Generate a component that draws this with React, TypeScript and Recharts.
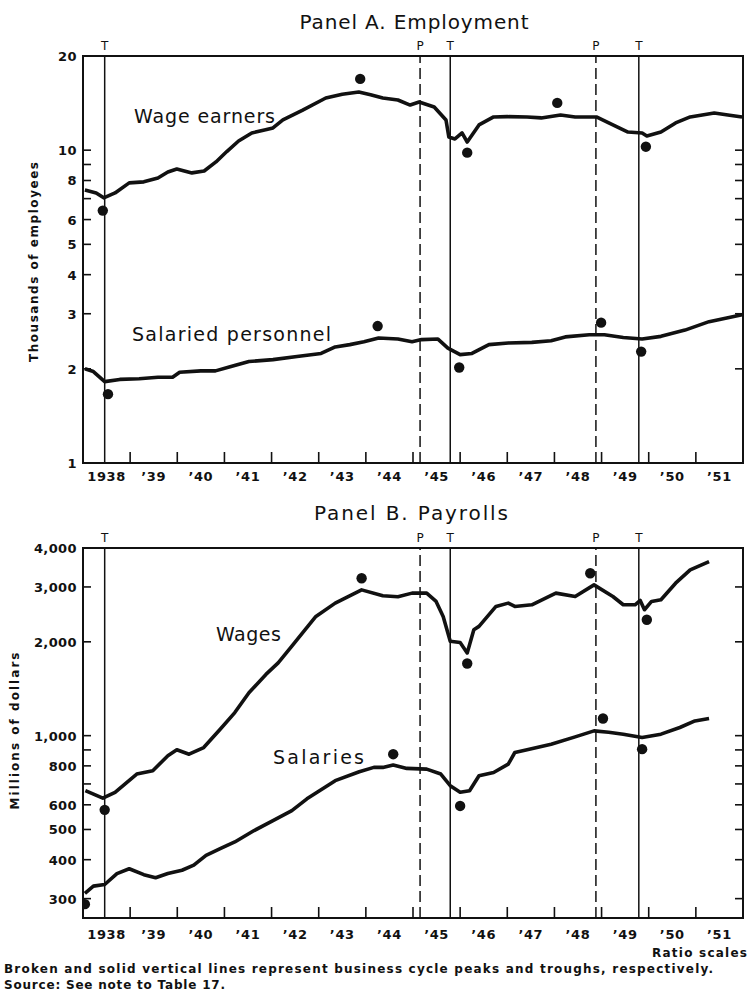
import React from "react";
import {
  ComposedChart,
  Line,
  Scatter,
  XAxis,
  YAxis,
  ReferenceLine,
  ReferenceArea,
} from "recharts";

const FONT = "'DejaVu Sans', Verdana, sans-serif";
const INK = "#111";

// business cycle turning points (P = peak, T = trough)
const cycleDates = [1938.46, 1945.15, 1945.79, 1948.88, 1949.79];
const cycleKinds = ["T", "P", "T", "P", "T"];

// x axis: short ticks at year boundaries, labels at mid-year
const yearBounds = [1939, 1940, 1941, 1942, 1943, 1944, 1945, 1946, 1947, 1948, 1949, 1950, 1951];
const yearMids = [1938.5, 1939.5, 1940.5, 1941.5, 1942.5, 1943.5, 1944.5, 1945.5, 1946.5, 1947.5, 1948.5, 1949.5, 1950.5, 1951.5];
const yearLabels = ["1938", "’39", "’40", "’41", "’42", "’43", "’44", "’45", "’46", "’47", "’48", "’49", "’50", "’51"];

// Panel A (thousands of employees)
const empTicks = [1, 2, 3, 4, 5, 6, 7, 8, 9, 10, 20];
const empLabeled = [1, 2, 3, 4, 5, 6, 8, 10, 20];
const empRightTicks = [2, 3, 4, 5, 6, 7, 8, 9, 10];

const wageEarnerDates = [1938.04, 1938.28, 1938.44, 1938.68, 1938.98, 1939.29, 1939.59, 1939.8, 1939.99, 1940.31, 1940.57, 1940.82, 1941.05, 1941.3, 1941.58, 1941.85, 1942.03, 1942.24, 1942.65, 1943.15, 1943.5, 1943.85, 1944.1, 1944.36, 1944.68, 1944.94, 1945.13, 1945.45, 1945.7, 1945.76, 1945.89, 1946.04, 1946.15, 1946.4, 1946.71, 1947.0, 1947.42, 1947.72, 1948.13, 1948.44, 1948.89, 1949.24, 1949.56, 1949.86, 1949.96, 1950.26, 1950.57, 1950.88, 1951.39, 1951.68, 1951.98];
const wageEarnerValues = [7.46, 7.3, 7.04, 7.3, 7.86, 7.92, 8.15, 8.52, 8.71, 8.46, 8.58, 9.17, 9.9, 10.7, 11.35, 11.6, 11.78, 12.49, 13.4, 14.68, 15.09, 15.34, 15.04, 14.68, 14.47, 13.94, 14.26, 13.74, 12.49, 11.02, 10.86, 11.35, 10.62, 12.04, 12.77, 12.8, 12.77, 12.68, 12.96, 12.77, 12.77, 12.04, 11.43, 11.35, 11.1, 11.43, 12.22, 12.77, 13.15, 12.96, 12.77];
const wageEarnerDotDates = [1938.42, 1943.88, 1946.15, 1948.06, 1949.94];
const wageEarnerDotValues = [6.41, 16.9, 9.82, 14.16, 10.26];

const salariedDates = [1938.04, 1938.22, 1938.46, 1938.78, 1939.19, 1939.59, 1939.9, 1940.05, 1940.5, 1940.81, 1941.12, 1941.52, 1942.03, 1942.54, 1943.05, 1943.35, 1943.66, 1943.96, 1944.27, 1944.68, 1944.98, 1945.18, 1945.53, 1945.74, 1946.0, 1946.25, 1946.61, 1947.02, 1947.52, 1947.93, 1948.23, 1948.74, 1949.06, 1949.46, 1949.86, 1950.26, 1950.77, 1951.28, 1951.98];
const salariedValues = [2.0, 1.96, 1.82, 1.85, 1.86, 1.88, 1.88, 1.95, 1.97, 1.97, 2.03, 2.11, 2.14, 2.19, 2.24, 2.35, 2.39, 2.44, 2.51, 2.49, 2.44, 2.48, 2.49, 2.33, 2.22, 2.24, 2.39, 2.42, 2.43, 2.46, 2.53, 2.57, 2.57, 2.52, 2.49, 2.54, 2.66, 2.83, 2.98];
const salariedDotDates = [1938.53, 1944.25, 1945.98, 1948.99, 1949.84];
const salariedDotValues = [1.66, 2.74, 2.02, 2.81, 2.27];

// Panel B (millions of dollars)
const payTicks = [300, 400, 500, 600, 700, 800, 900, 1000, 2000, 3000, 4000];
const payLabeled = [300, 400, 500, 600, 800, 1000, 2000, 3000, 4000];
const payRightTicks = [300, 400, 500, 600, 700, 800, 900, 1000, 2000, 3000];

const wageDates = [1938.05, 1938.42, 1938.68, 1939.14, 1939.48, 1939.8, 1939.99, 1940.25, 1940.56, 1940.91, 1941.22, 1941.52, 1941.88, 1942.14, 1942.43, 1942.94, 1943.35, 1943.91, 1944.36, 1944.68, 1944.98, 1945.29, 1945.49, 1945.64, 1945.79, 1946.0, 1946.15, 1946.29, 1946.4, 1946.76, 1947.02, 1947.16, 1947.52, 1948.03, 1948.44, 1948.84, 1949.24, 1949.46, 1949.71, 1949.82, 1949.91, 1950.06, 1950.26, 1950.57, 1950.88, 1951.28];
const wageValues = [666, 630, 658, 753, 772, 862, 901, 872, 916, 1048, 1186, 1373, 1572, 1712, 1936, 2413, 2662, 2936, 2810, 2790, 2866, 2866, 2695, 2413, 2008, 1990, 1843, 2188, 2242, 2598, 2662, 2598, 2630, 2866, 2796, 3046, 2796, 2630, 2630, 2715, 2535, 2695, 2728, 3084, 3402, 3617];
const wageDotDates = [1938.46, 1943.91, 1946.15, 1948.76, 1949.96];
const wageDotValues = [578, 3200, 1704, 3320, 2355];

const salaryDates = [1938.04, 1938.22, 1938.46, 1938.72, 1938.98, 1939.29, 1939.54, 1939.8, 1940.1, 1940.35, 1940.61, 1940.91, 1941.22, 1941.63, 1942.03, 1942.43, 1942.75, 1943.35, 1943.86, 1944.17, 1944.36, 1944.58, 1944.87, 1945.29, 1945.59, 1945.79, 1946.0, 1946.2, 1946.4, 1946.71, 1947.02, 1947.16, 1947.42, 1947.93, 1948.44, 1948.84, 1949.15, 1949.46, 1949.86, 1950.26, 1950.66, 1950.98, 1951.28];
const salaryValues = [312, 329, 333, 361, 374, 358, 350, 361, 370, 384, 413, 434, 456, 496, 534, 575, 627, 717, 766, 791, 791, 805, 785, 781, 753, 691, 658, 666, 744, 762, 810, 883, 901, 939, 991, 1036, 1026, 1011, 986, 1011, 1062, 1115, 1135];
const salaryDotDates = [1938.04, 1944.58, 1946.0, 1949.03, 1949.86];
const salaryDotValues = [288, 872, 595, 1135, 905];

const zip = (ts: number[], vs: number[]) => ts.map((t, i) => ({ t, v: vs[i] }));
const xTicks = [...yearMids, ...yearBounds].sort((a, b) => a - b);

const xTick = (labelDrop: number) => (props: any) => {
  const { x, y, payload } = props;
  const i = yearMids.indexOf(payload.value);
  if (i >= 0) {
    return (
      <text x={x} y={y + labelDrop} textAnchor="middle" fontSize={13} fontWeight="bold" letterSpacing={0.6} fontFamily={FONT} fill={INK}>
        {yearLabels[i]}
      </text>
    );
  }
  return <line x1={x} x2={x} y1={y} y2={y - 11} stroke={INK} strokeWidth={1.6} />;
};

const leftTick = (labeled: number[], fmt: (v: number) => string) => (props: any) => {
  const { x, y, payload } = props;
  const v = payload.value;
  return (
    <g>
      <line x1={x} x2={x + 8} y1={y} y2={y} stroke={INK} strokeWidth={1.6} />
      {labeled.includes(v) && (
        <text x={x - 6} y={y + 5} textAnchor="end" fontSize={13} fontWeight="bold" letterSpacing={0.4} fontFamily={FONT} fill={INK}>
          {fmt(v)}
        </text>
      )}
    </g>
  );
};

const RightTick = (props: any) => {
  const { x, y } = props;
  return <line x1={x - 8} x2={x} y1={y} y2={y} stroke={INK} strokeWidth={1.6} />;
};

const Dot = (p: any) => <circle cx={p.cx} cy={p.cy} r={5.2} fill={INK} />;

interface PanelProps {
  top: number;
  height: number;
  marginTop: number;
  marginBottom: number;
  labelDrop: number;
  domain: [number, number];
  ticks: number[];
  rightTicks: number[];
  labeled: number[];
  fmt: (v: number) => string;
  series: { t: number; v: number }[][];
  dots: { t: number; v: number }[][];
}

function Panel({ top, height, marginTop, marginBottom, labelDrop, domain, ticks, rightTicks, labeled, fmt, series, dots }: PanelProps) {
  return (
    <div style={{ position: "absolute", left: 0, top }}>
      <ComposedChart width={749} height={height} margin={{ top: marginTop, right: 5, bottom: marginBottom, left: 23 }}>
        <XAxis
          type="number"
          dataKey="t"
          domain={[1938, 1952]}
          allowDataOverflow
          ticks={xTicks}
          interval={0}
          tick={xTick(labelDrop)}
          tickLine={false}
          axisLine={false}
          tickSize={0}
          tickMargin={0}
          height={30}
        />
        <YAxis
          type="number"
          scale="log"
          domain={domain}
          allowDataOverflow
          ticks={ticks}
          interval={0}
          tick={leftTick(labeled, fmt)}
          tickLine={false}
          axisLine={false}
          tickSize={0}
          tickMargin={0}
          width={60}
        />
        <YAxis
          yAxisId="r"
          orientation="right"
          type="number"
          scale="log"
          domain={domain}
          allowDataOverflow
          ticks={rightTicks}
          interval={0}
          tick={RightTick}
          tickLine={false}
          axisLine={false}
          tickSize={0}
          tickMargin={0}
          width={1}
        />
        <ReferenceArea x1={1938} x2={1952} y1={domain[0]} y2={domain[1]} fill="none" stroke={INK} strokeWidth={2} />
        {cycleDates.map((d, i) => (
          <ReferenceLine
            key={d}
            x={d}
            stroke={INK}
            strokeWidth={1.5}
            strokeDasharray={cycleKinds[i] === "P" ? "11 5" : undefined}
            label={{ value: cycleKinds[i], position: "top", offset: 6, fill: INK, fontSize: 12, fontFamily: FONT }}
          />
        ))}
        {series.map((s, i) => (
          <Line
            key={i}
            data={s}
            dataKey="v"
            type="linear"
            stroke={INK}
            strokeWidth={3.6}
            strokeLinejoin="round"
            dot={false}
            isAnimationActive={false}
          />
        ))}
        {dots.map((d, i) => (
          <Scatter key={i} data={d} dataKey="v" shape={Dot} isAnimationActive={false} />
        ))}
      </ComposedChart>
    </div>
  );
}

const txt = { fontFamily: FONT, fill: INK } as const;

export default function App() {
  return (
    <div style={{ position: "absolute", left: 0, top: 0, width: 749, height: 995, background: "#fff" }}>
      <Panel
        top={0}
        height={500}
        marginTop={56}
        marginBottom={7}
        labelDrop={18}
        domain={[1, 20]}
        ticks={empTicks}
        rightTicks={empRightTicks}
        labeled={empLabeled}
        fmt={(v) => String(v)}
        series={[zip(wageEarnerDates, wageEarnerValues), zip(salariedDates, salariedValues)]}
        dots={[zip(wageEarnerDotDates, wageEarnerDotValues), zip(salariedDotDates, salariedDotValues)]}
      />
      <Panel
        top={500}
        height={450}
        marginTop={48}
        marginBottom={2}
        labelDrop={21}
        domain={[260, 4000]}
        ticks={payTicks}
        rightTicks={payRightTicks}
        labeled={payLabeled}
        fmt={(v) => v.toLocaleString("en-US")}
        series={[zip(wageDates, wageValues), zip(salaryDates, salaryValues)]}
        dots={[zip(wageDotDates, wageDotValues), zip(salaryDotDates, salaryDotValues)]}
      />
      <svg width={749} height={995} style={{ position: "absolute", left: 0, top: 0, pointerEvents: "none" }}>
        <text x={414} y={28.5} textAnchor="middle" fontSize={20} textLength={229} {...txt}>Panel A.  Employment</text>
        <text x={134} y={122.5} fontSize={19} textLength={141} {...txt}>Wage earners</text>
        <text x={132} y={340.7} fontSize={19} textLength={199} {...txt}>Salaried personnel</text>
        <text transform="translate(38,262) rotate(-90)" textAnchor="middle" fontSize={12} fontWeight="bold" textLength={200} {...txt}>Thousands of employees</text>

        <text x={411} y={519.5} textAnchor="middle" fontSize={20} textLength={194} {...txt}>Panel B.  Payrolls</text>
        <text x={216} y={640.7} fontSize={19} textLength={65} {...txt}>Wages</text>
        <text x={273} y={764} fontSize={19} textLength={91} {...txt}>Salaries</text>
        <text transform="translate(19,731) rotate(-90)" textAnchor="middle" fontSize={12} fontWeight="bold" textLength={157} {...txt}>Millions of dollars</text>

        <text x={747} y={957} textAnchor="end" fontSize={12} fontWeight="bold" textLength={95} {...txt}>Ratio scales</text>
        <text x={4} y={973} fontSize={12} fontWeight="bold" textLength={709} {...txt}>Broken and solid vertical lines represent business cycle peaks and troughs, respectively.</text>
        <text x={4} y={989} fontSize={12} fontWeight="bold" textLength={221} {...txt}>Source: See note to Table 17.</text>
      </svg>
    </div>
  );
}
